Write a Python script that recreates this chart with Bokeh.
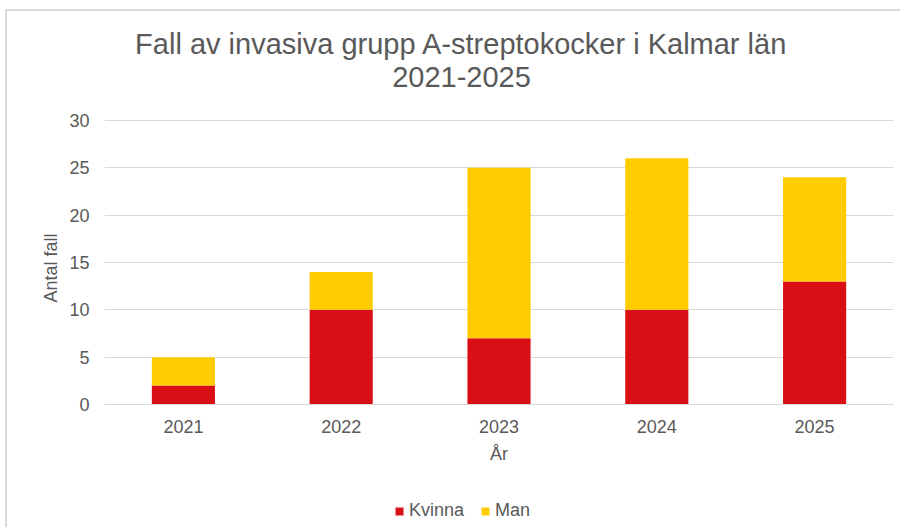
from bokeh.plotting import figure
from bokeh.models import Range1d, FactorRange, Title, Legend, LegendItem, Label
from bokeh.embed import file_html
from bokeh.resources import INLINE

years = ["2021", "2022", "2023", "2024", "2025"]
kvinna = [2, 10, 7, 10, 13]
man = [3, 4, 18, 16, 11]
series = ["Kvinna", "Man"]
colors = ["#DA0F15", "#FFCC00"]
y_ticks = [0, 5, 10, 15, 20, 25, 30]
title_lines = ["Fall av invasiva grupp A-streptokocker i Kalmar län", "2021-2025"]

FONT = "Liberation Sans"
TXT = "#595959"

# layout (pixels): canvas 895x518; plotting band y=0 -> 393px, y=30 -> 109px from canvas top
W, H = 895, 518
PX_TOP30, PX_ZERO = 109, 393
ymax = max(y_ticks)
ppu = (PX_ZERO - PX_TOP30) / ymax
y_hi = ymax + PX_TOP30 / ppu
y_lo = -(H - PX_ZERO) / ppu

p = figure(
    width=W, height=H,
    x_range=FactorRange(*years, range_padding=0),
    y_range=Range1d(y_lo, y_hi),
    output_backend="svg", toolbar_location=None,
    min_border_left=97, min_border_right=9,
    min_border_top=0, min_border_bottom=0,
    title=None,
)

data = {"year": years, "Kvinna": kvinna, "Man": man}
rs = p.vbar_stack(series, x="year", width=0.4, color=colors, source=data,
                  line_color=None)

p.outline_line_color = None
p.background_fill_color = "white"
p.border_fill_color = "white"

p.ygrid.grid_line_color = "#d9d9d9"
p.ygrid.grid_line_width = 1
p.ygrid.ticker = y_ticks
p.xgrid.grid_line_color = None

p.yaxis.ticker = y_ticks
p.yaxis.axis_line_color = None
p.yaxis.major_tick_line_color = None
p.yaxis.minor_tick_line_color = None
p.yaxis.major_label_standoff = 9

p.xaxis.fixed_location = 0
p.xaxis.axis_line_color = "#d9d9d9"
p.xaxis.major_tick_line_color = None
p.xaxis.minor_tick_line_color = None
p.xaxis.major_label_standoff = 9
p.xaxis.axis_label = "År"
p.xaxis.axis_label_standoff = 8

for ax in (p.xaxis, p.yaxis):
    ax.major_label_text_font = FONT
    ax.major_label_text_font_size = "18px"
    ax.major_label_text_color = TXT
    ax.axis_label_text_font = FONT
    ax.axis_label_text_font_size = "18px"
    ax.axis_label_text_color = TXT
    ax.axis_label_text_font_style = "normal"

# y axis title, placed in the left panel
p.add_layout(Title(text="Antal fall", align="left", offset=227, standoff=12,
                   text_font=FONT, text_font_size="18px", text_color=TXT,
                   text_font_style="normal"), "left")

# chart title (two centred lines)
for txt, base in zip(title_lines, [32, 65]):
    p.add_layout(Label(x=357, y=H - base, x_units="screen", y_units="screen",
                       text=txt, text_align="center", text_baseline="alphabetic",
                       text_font=FONT, text_font_size="29px", text_color=TXT))

items = [LegendItem(label=s, renderers=[r]) for s, r in zip(series, rs)]
legend = Legend(items=items, orientation="horizontal", location=(290, 8),
                label_text_font=FONT, label_text_font_size="18px",
                label_text_color=TXT, glyph_width=10, glyph_height=10,
                label_standoff=5, spacing=16, border_line_color=None,
                background_fill_alpha=0, padding=0, margin=0)
p.add_layout(legend, "center")

p.styles = {"border-top": "2px solid #d9d9d9", "border-left": "2px solid #d9d9d9",
            "margin-left": "5px", "margin-top": "9px"}

open("out.html", "w").write(file_html(p, INLINE))
